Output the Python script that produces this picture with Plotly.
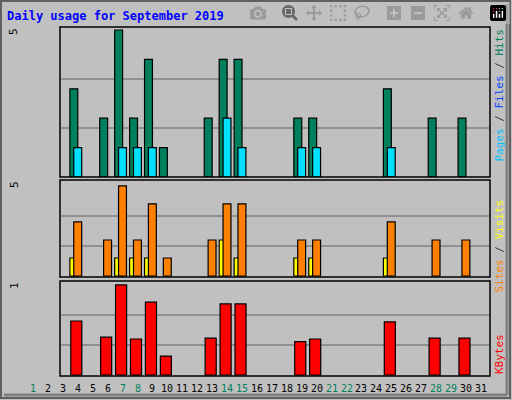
import plotly.graph_objects as go

days = list(range(1, 32))
hits = {4:3,6:2,7:5,8:2,9:4,10:1,13:2,14:4,15:4,19:2,20:2,25:3,28:2,30:2}
files = {4:1,7:1,8:1,9:1,14:2,15:1,19:1,20:1,25:1}
visits = {4:3,6:2,7:5,8:2,9:4,10:1,13:2,14:4,15:4,19:2,20:2,25:3,28:2,30:2}
sites = {4:1,7:1,8:1,9:1,14:2,15:1,19:1,20:1,25:1}
kbytes = {4:0.60,6:0.42,7:1.0,8:0.40,9:0.81,10:0.21,13:0.41,14:0.79,15:0.79,19:0.37,20:0.40,25:0.59,28:0.41,30:0.41}
weekend = [1,7,8,14,15,21,22,28,29]
hits_max, visits_max, kb_max = 5, 5, 1

W, H = 512, 400
L, R, T, B = 20, 22, 27, 24
pw, ph = W - L - R, H - T - B
def px(x): return (x - L) / pw
def py(y): return (H - B - y) / ph

x0 = 1 + (L - 33) / 14.93
x1 = 1 + (W - R - 33) / 14.93

fig = go.Figure()
def bars(d, color, offset, width, ax):
    xs = list(d.keys()); ys = list(d.values())
    fig.add_trace(go.Bar(x=xs, y=ys, offset=offset, width=width, marker=dict(color=color, line=dict(color="black", width=1.2)),
                         xaxis=ax[0], yaxis=ax[1], showlegend=False, hoverinfo="skip"))

bars(hits, "#00805C", -0.53, 0.53, ("x", "y"))
bars(files, "#00E0FF", -0.27, 0.53, ("x", "y"))
bars(sites, "#FFFF00", -0.53, 0.53, ("x2", "y2"))
bars(visits, "#FF8000", -0.27, 0.53, ("x2", "y2"))
bars(kbytes, "#FF0000", -0.47, 0.74, ("x3", "y3"))

panels = [(27, 177, hits_max, "y"), (180, 277, visits_max, "y2"), (281, 376, kb_max, "y3")]
shapes = []
for (top, bot, mx, yname) in panels:
    shapes.append(dict(type="rect", xref="paper", yref="paper", x0=px(60), x1=px(490), y0=py(bot), y1=py(top),
                       line=dict(color="black", width=1.5), fillcolor="rgba(0,0,0,0)", layer="above"))
    for f in (1/3, 2/3):
        shapes.append(dict(type="line", xref="paper", yref=yname, x0=px(61), x1=px(489), y0=mx*f, y1=mx*f,
                           line=dict(color="#808080", width=1.5), layer="below"))
shapes.append(dict(type="rect", xref="paper", yref="paper", x0=px(1), x1=px(510), y0=py(398), y1=py(1),
                   line=dict(color="#606060", width=2)))
shapes.append(dict(type="line", xref="paper", yref="paper", x0=px(507), x1=px(507), y0=py(395), y1=py(4),
                   line=dict(color="#808080", width=3)))
shapes.append(dict(type="line", xref="paper", yref="paper", x0=px(4), x1=px(507), y0=py(395), y1=py(395),
                   line=dict(color="#808080", width=3)))

anns = [dict(text="<b>Daily usage for September 2019</b>", x=px(5), y=py(16), xref="paper", yref="paper",
             showarrow=False, xanchor="left", yanchor="middle", font=dict(family="DejaVu Sans Mono", size=12, color="#0000FF"))]
for (top, bot, mx, yname), lab in zip(panels, ["5", "5", "1"]):
    anns.append(dict(text=lab, x=px(14), y=py(top + 5), xref="paper", yref="paper", showarrow=False, textangle=-90,
                     xanchor="center", yanchor="middle", font=dict(family="DejaVu Sans Mono", size=11, color="black")))
right = [
    (27, "<span style='color:#00C0FF'>Pages</span><span style='color:#404040'> / </span><span style='color:#0040FF'>Files</span><span style='color:#404040'> / </span><span style='color:#00805C'>Hits</span>"),
    (198, "<span style='color:#FF8000'>Sites</span><span style='color:#404040'> / </span><span style='color:#FFFF00'>Visits</span>"),
    (332, "<span style='color:#FF0000'>KBytes</span>"),
]
for ytop, txt in right:
    anns.append(dict(text=txt, x=px(499), y=py(ytop), xref="paper", yref="paper", showarrow=False, textangle=-90,
                     xanchor="center", yanchor="top", font=dict(family="DejaVu Sans Mono", size=11)))
for d in days:
    anns.append(dict(text=str(d), x=d, y=py(388), xref="x3", yref="paper", showarrow=False, xanchor="center", yanchor="middle",
                     font=dict(family="DejaVu Sans Mono", size=10, color="#00805C" if d in weekend else "black")))

axcommon = dict(range=[x0, x1], showgrid=False, zeroline=False, showticklabels=False, ticks="", showline=False)
ycommon = dict(showgrid=False, zeroline=False, showticklabels=False, ticks="", showline=False)
fig.update_layout(
    width=W, height=H, margin=dict(l=L, r=R, t=T, b=B),
    paper_bgcolor="#C0C0C0", plot_bgcolor="#C0C0C0", barmode="overlay",
    xaxis=dict(**axcommon, anchor="y"), xaxis2=dict(**axcommon, anchor="y2", matches="x"), xaxis3=dict(**axcommon, anchor="y3", matches="x"),
    yaxis=dict(**ycommon, domain=[py(177), py(27)], range=[0, hits_max * 150 / 147]),
    yaxis2=dict(**ycommon, domain=[py(277), py(180)], range=[-5*1/91, visits_max * 97 / 91]),
    yaxis3=dict(**ycommon, domain=[py(376), py(281)], range=[-1/91, kb_max * 95 / 91]),
    shapes=shapes, annotations=anns,
)
fig.write_html("out.html", post_script="document.body.style.margin='0';document.body.style.overflow='hidden';")
